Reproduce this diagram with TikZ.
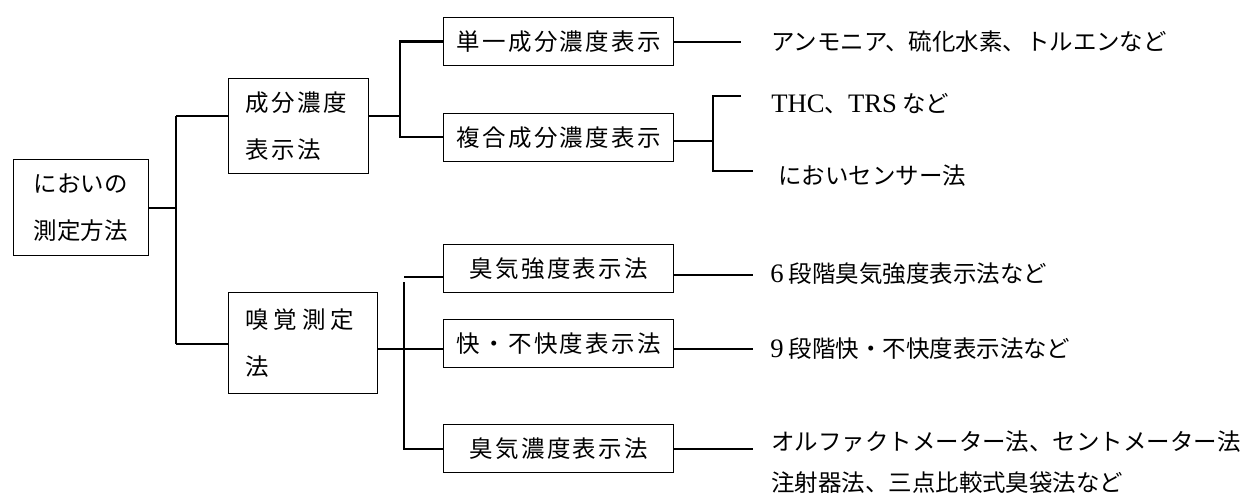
\documentclass[tikz,border=0pt]{standalone}
\usepackage{fontspec}
\setmainfont{Liberation Serif}
\newfontfamily\jp{Noto Sans CJK JP}
\newfontfamily\jpa[LetterSpace=10]{Noto Sans CJK JP}
\newfontfamily\jpb[LetterSpace=20]{Noto Sans CJK JP}
\newcommand\lat[1]{{\rmfamily\fontsize{20pt}{21pt}\selectfont #1}}
\tikzset{
  box/.style={draw, line width=1.1pt, rectangle, inner sep=0pt, anchor=north west},
  bigbox/.style={box, align=left, inner xsep=12.75pt},
  smallbox/.style={box, minimum width=172.5pt, minimum height=36pt,
    font=\jpa\fontsize{17.6pt}{21pt}\selectfont},
  lbl/.style={anchor=west, inner sep=0pt, font=\jp\fontsize{17.6pt}{21pt}\selectfont},
  cthick/.style={line width=1.9pt},
  cmid/.style={line width=1.5pt},
  cthin/.style={line width=1.2pt},
}
\begin{document}
\begin{tikzpicture}[x=0.75pt,y=-0.75pt]
\useasboundingbox (0,0) rectangle (1250,494);
% level 0
\node[box, align=left, inner xsep=15pt, text width=71.25pt, minimum width=101.25pt,
  minimum height=72pt, font=\jp\fontsize{17.6pt}{35pt}\selectfont] (root) at (13,159) {においの\\測定方法};
% level 1
\node[bigbox, text width=79.5pt, minimum width=105pt, minimum height=71.25pt,
  font=\jpa\fontsize{17.6pt}{35pt}\selectfont] (comp) at (228,78) {成分濃度\\表示法};
\node[bigbox, text width=86.25pt, minimum width=111.75pt, minimum height=75.75pt,
  font=\jpb\fontsize{17.6pt}{35pt}\selectfont] (olf) at (228,292) {嗅覚測定\\法};
% level 2
\node[smallbox] (single) at (443,17) {単一成分濃度表示};
\node[smallbox] (multi) at (443,113) {複合成分濃度表示};
\node[smallbox] (inten) at (443,244) {臭気強度表示法};
\node[smallbox] (hed) at (443,319) {快・不快度表示法};
\node[smallbox] (conc) at (443,424) {臭気濃度表示法};
% labels
\node[lbl] (t1) at (771,42) {アンモニア、硫化水素、トルエンなど};
\node[lbl] (t2) at (771,104) {\lat{THC}、\lat{TRS} など};
\node[lbl] (t3) at (778,176) {においセンサー法};
\node[lbl] (t4) at (770,274) {\lat{6} 段階臭気強度表示法など};
\node[lbl] (t5) at (770,349) {\lat{9} 段階快・不快度表示法など};
\node[lbl] (t6) at (771,442) {オルファクトメーター法、セントメーター法};
\node[lbl] (t7) at (771,483) {注射器法、三点比較式臭袋法など};
% junction coordinates
\coordinate (j0) at (176,208);
\coordinate (j0a) at (176,116);
\coordinate (j0b) at (176,344);
\coordinate (j1) at (400,116);
\coordinate (j1b) at (400,137);
\coordinate (j2) at (713,141);
\coordinate (j3) at (404,349);
\coordinate (j3a) at (404,282);
\coordinate (j3t) at (404,277);
\coordinate (e1) at (741,42);
\coordinate (e2) at (741,96);
\coordinate (e3) at (753,171);
\coordinate (e4) at (753,275);
\coordinate (e5) at (753,349);
\coordinate (e6) at (753,449);
% connectors level 0 -> 1
\draw[cthick] (root.east |- j0) -- (j0);
\draw[cthin] (j0a) -- (j0b);
\draw[cthick] (j0a) -- (comp.west |- j0a);
\draw[cthin] (j0b) -- (olf.west |- j0b);
% level 1 -> 2 (upper)
\draw[cthick] (comp.east |- j1) -- (j1);
\draw[cthick] (single.west) -- (j1 |- single.west) -- (j1b) -- (multi.west |- j1b);
% level 1 -> 2 (lower)
\draw[cthin] (olf.east |- j3) -- (hed.west |- j3);
\draw[cthin] (j3a) -- (j3 |- conc.west) -- (conc.west);
\draw[cthin] (j3t) -- (inten.west |- j3t);
% level 2 -> labels
\draw[cmid] (single.east |- e1) -- (e1);
\draw[cthick] (multi.east |- j2) -- (j2);
\draw[cthick] (e2) -- (j2 |- e2) -- (j2 |- e3) -- (e3);
\draw[cthin] (inten.east |- e4) -- (e4);
\draw[cthin] (hed.east |- e5) -- (e5);
\draw[cthin] (conc.east |- e6) -- (e6);
\end{tikzpicture}
\end{document}
